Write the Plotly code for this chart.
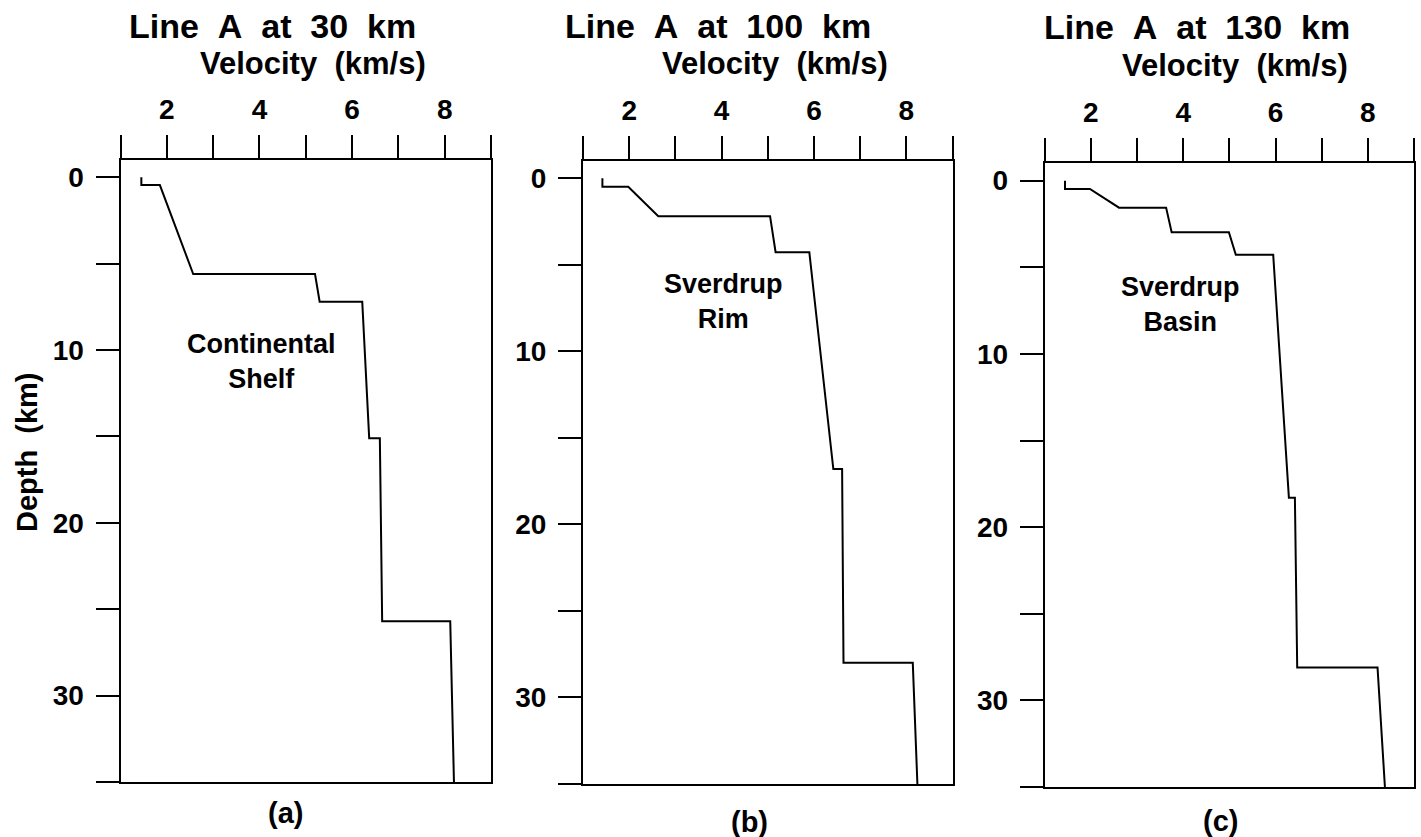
import plotly.graph_objects as go

# Velocity-depth profiles along Line A (velocity km/s, depth km)
vel_30km = [1.45, 1.45, 1.85, 2.57, 5.20, 5.30, 6.22, 6.37, 6.60, 6.65, 8.12, 8.20]
dep_30km = [0.0, 0.45, 0.45, 5.6, 5.6, 7.2, 7.2, 15.1, 15.1, 25.7, 25.7, 35.0]

vel_100km = [1.42, 1.42, 1.98, 2.63, 5.05, 5.17, 5.90, 6.42, 6.61, 6.64, 8.14, 8.24]
dep_100km = [0.0, 0.49, 0.49, 2.19, 2.19, 4.27, 4.27, 16.8, 16.8, 28.0, 28.0, 35.0]

vel_130km = [1.44, 1.44, 1.98, 2.61, 3.63, 3.75, 4.99, 5.14, 5.95, 6.29, 6.42, 6.47, 8.21, 8.37]
dep_130km = [0.0, 0.48, 0.48, 1.56, 1.56, 2.98, 2.98, 4.28, 4.28, 18.3, 18.3, 28.1, 28.1, 35.0]

panel_titles = ["Line  A  at  30  km", "Line  A  at  100  km", "Line  A  at  130  km"]
region_labels = ["Continental<br>Shelf", "Sverdrup<br>Rim", "Sverdrup<br>Basin"]
panel_letters = ["(a)", "(b)", "(c)"]

vel_ticks = [1, 2, 3, 4, 5, 6, 7, 8, 9]
vel_ticktext = ["", "2", "", "4", "", "6", "", "8", ""]
dep_ticks = [0, 5, 10, 15, 20, 25, 30, 35]
dep_ticktext = ["0", "", "10", "", "20", "", "30", ""]

W, H = 1421, 837
FONT = "Liberation Sans, Arial, Helvetica, sans-serif"

# Plot-box pixel extents (left, right, top, bottom) for the three panels
boxes = [(120.5, 491.0, 160.0, 782.0),
         (583.0, 952.5, 161.0, 784.0),
         (1044.7, 1414.0, 163.3, 787.0)]

profiles = [(vel_30km, dep_30km), (vel_100km, dep_100km), (vel_130km, dep_130km)]


def px(x, y):
    return x / W, 1 - y / H


fig = go.Figure()
layout = dict(
    width=W, height=H,
    margin=dict(l=0, r=0, t=0, b=0),
    paper_bgcolor="white", plot_bgcolor="white",
    showlegend=False,
    font=dict(family=FONT, color="black"),
)

for i, ((v, d), (l, r, t, b)) in enumerate(zip(profiles, boxes)):
    n = "" if i == 0 else str(i + 1)
    fig.add_trace(go.Scatter(x=v, y=d, mode="lines",
                             line=dict(color="black", width=2),
                             xaxis="x" + n, yaxis="y" + n, hoverinfo="skip"))
    layout["xaxis" + n] = dict(
        domain=[l / W, r / W], anchor="y" + n, side="top",
        range=[1, 9], tickmode="array", tickvals=vel_ticks,
        ticktext=["<b>%s</b>" % s if s else "" for s in vel_ticktext],
        ticks="outside", ticklen=23, tickwidth=2, tickcolor="black",
        ticklabelstandoff=5,
        tickfont=dict(family=FONT, size=28, color="black"),
        showline=True, linewidth=2, linecolor="black", mirror=True,
        showgrid=False, zeroline=False, fixedrange=True,
    )
    layout["yaxis" + n] = dict(
        domain=[1 - b / H, 1 - t / H], anchor="x" + n,
        range=[35, -1], tickmode="array", tickvals=dep_ticks,
        ticktext=["<b>%s</b>" % s if s else "" for s in dep_ticktext],
        ticks="outside", ticklen=23, tickwidth=2, tickcolor="black",
        ticklabelstandoff=6,
        tickfont=dict(family=FONT, size=28, color="black"),
        showline=True, linewidth=2, linecolor="black", mirror=True,
        showgrid=False, zeroline=False, fixedrange=True,
    )

annotations = []


def add_text(text, x, y, size, angle=0):
    ax, ay = px(x, y)
    annotations.append(dict(text="<b>%s</b>" % text, x=ax, y=ay,
                            xref="paper", yref="paper",
                            xanchor="center", yanchor="middle",
                            showarrow=False, textangle=angle,
                            font=dict(family=FONT, size=size, color="black")))


title_pos = [(272, 26), (718, 26), (1197, 27)]
vel_pos = [(313, 63), (775, 64), (1235, 66)]
region_pos = [(261, 362), (723, 301), (1180, 304)]
letter_pos = [(285, 813), (749, 822), (1220, 821)]

for i in range(3):
    add_text(panel_titles[i].replace(" ", "\u00a0"), *title_pos[i], 34)
    add_text("Velocity\u00a0\u00a0(km/s)", *vel_pos[i], 31)
    add_text(region_labels[i], *region_pos[i], 27)
    add_text(panel_letters[i], *letter_pos[i], 29)

add_text("Depth\u00a0\u00a0(km)", 27, 452, 29, angle=-90)

layout["annotations"] = annotations
fig.update_layout(**layout)
fig.write_html("out.html")
